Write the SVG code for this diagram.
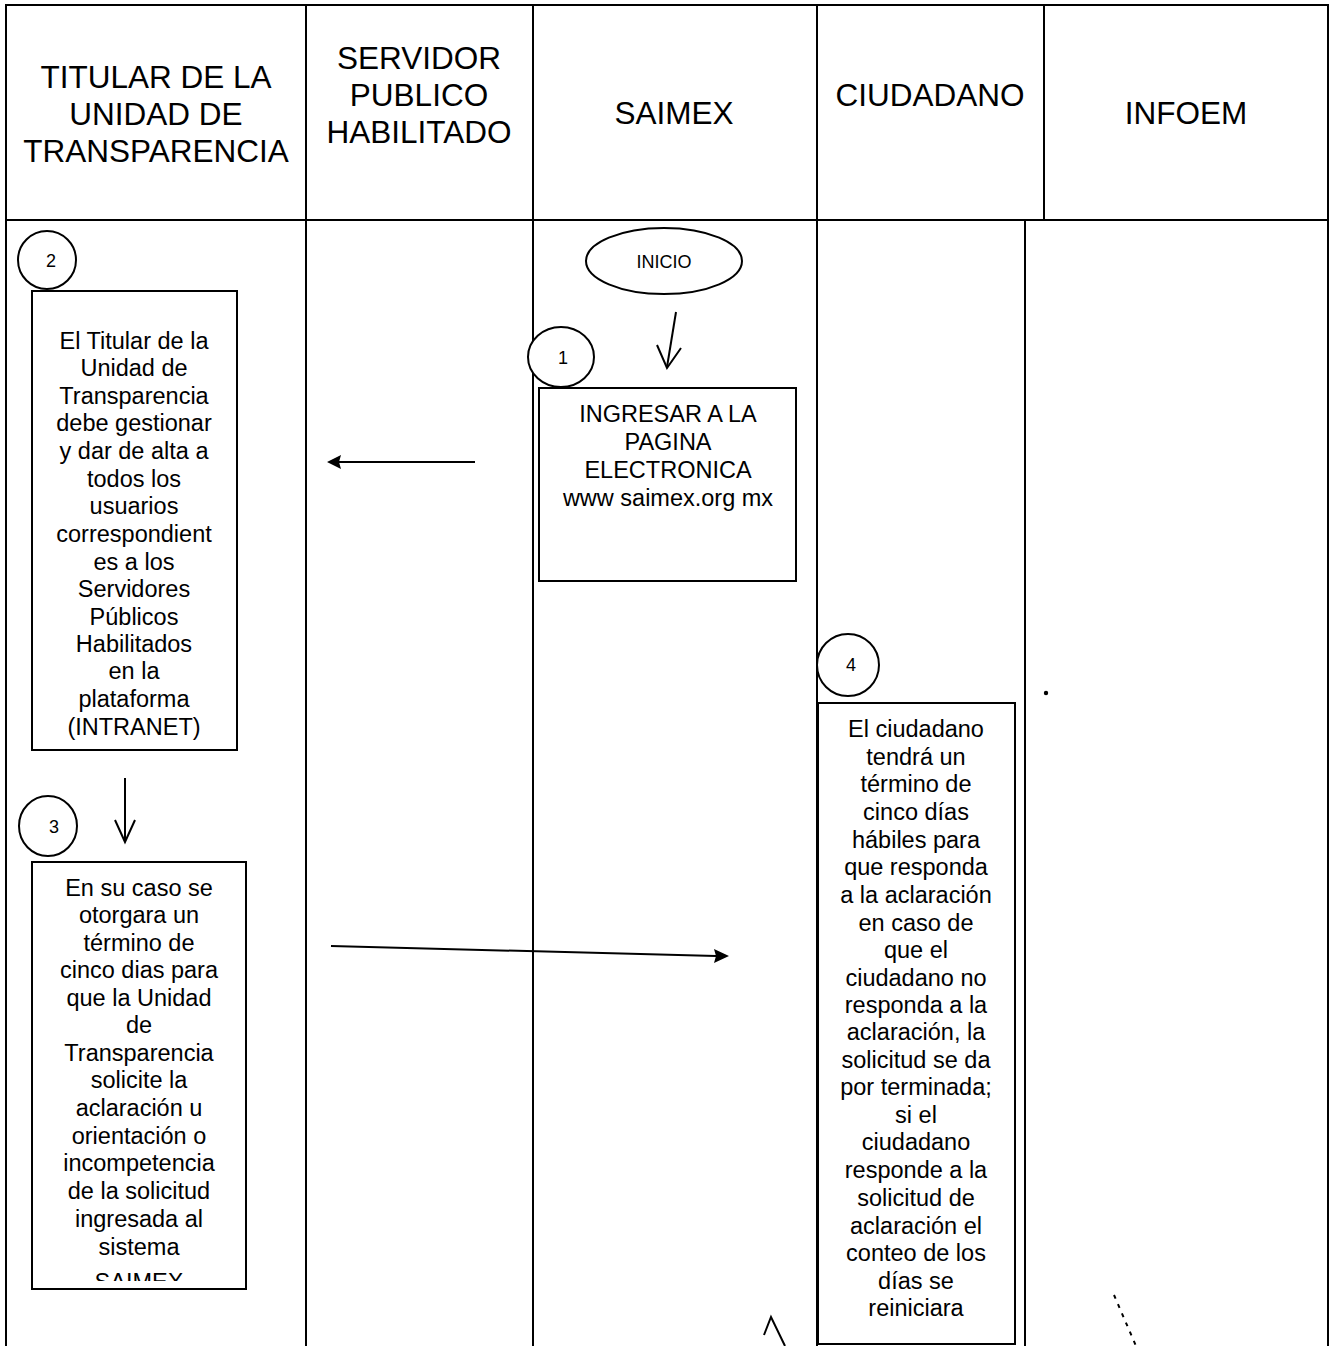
<svg xmlns="http://www.w3.org/2000/svg" width="1331" height="1346" viewBox="0 0 1331 1346">
<style>
.ln{stroke:#000;stroke-width:2;fill:none}
.bx{stroke:#000;stroke-width:2;fill:#fff}
.hd{font-family:"Liberation Sans",Arial,sans-serif;font-size:31.5px;text-anchor:middle;fill:#000}
.tx{font-family:"Liberation Sans",Arial,sans-serif;font-size:23.5px;text-anchor:middle;fill:#000}
.nm{font-family:"Liberation Sans",Arial,sans-serif;font-size:18px;text-anchor:middle;fill:#000}
.ah{fill:#000}
</style>
<defs>
<clipPath id="c3"><rect x="33" y="863" width="212" height="418"/></clipPath>
</defs>
<rect width="1331" height="1346" fill="#fff"/>
<g id="lanes">
<line class="ln" x1="5" y1="5" x2="1329" y2="5"/>
<line class="ln" x1="5" y1="220" x2="1329" y2="220"/>
<line class="ln" x1="6" y1="5" x2="6" y2="1346"/>
<line class="ln" x1="306" y1="5" x2="306" y2="1346"/>
<line class="ln" x1="533" y1="5" x2="533" y2="1346"/>
<line class="ln" x1="817" y1="5" x2="817" y2="1346"/>
<line class="ln" x1="1044" y1="5" x2="1044" y2="220"/>
<line class="ln" x1="1025" y1="220" x2="1025" y2="1346"/>
<line class="ln" x1="1328" y1="5" x2="1328" y2="1346"/>
</g>
<g id="headers">
<text class="hd" x="156" y="88">TITULAR DE LA</text>
<text class="hd" x="156" y="125">UNIDAD DE</text>
<text class="hd" x="156" y="162">TRANSPARENCIA</text>
<text class="hd" x="419" y="69">SERVIDOR</text>
<text class="hd" x="419" y="106">PUBLICO</text>
<text class="hd" x="419" y="143">HABILITADO</text>
<text class="hd" x="674" y="124">SAIMEX</text>
<text class="hd" x="930" y="106">CIUDADANO</text>
<text class="hd" x="1186" y="124">INFOEM</text>
</g>
<g id="inicio">
<ellipse class="bx" cx="664" cy="261" rx="78" ry="33"/>
<text class="nm" x="664" y="268" font-size="19">INICIO</text>
</g>
<g id="step1">
<rect class="bx" x="539" y="388" width="257" height="193"/>
<ellipse class="bx" cx="561" cy="357" rx="33" ry="30"/>
<text class="nm" x="563" y="364">1</text>
<text class="tx" font-size="24" x="668" y="422">INGRESAR A LA</text>
<text class="tx" font-size="24" x="668" y="450">PAGINA</text>
<text class="tx" font-size="24" x="668" y="478">ELECTRONICA</text>
<text class="tx" font-size="24" x="668" y="506">www saimex.org mx</text>
</g>
<g id="step2">
<rect class="bx" x="32" y="291" width="205" height="459"/>
<ellipse class="bx" cx="47" cy="260" rx="29" ry="29"/>
<text class="nm" x="51" y="267">2</text>
<text class="tx" x="134" y="349">El Titular de la</text>
<text class="tx" x="134" y="376">Unidad de</text>
<text class="tx" x="134" y="404">Transparencia</text>
<text class="tx" x="134" y="431">debe gestionar</text>
<text class="tx" x="134" y="459">y dar de alta a</text>
<text class="tx" x="134" y="487">todos los</text>
<text class="tx" x="134" y="514">usuarios</text>
<text class="tx" x="134" y="542">correspondient</text>
<text class="tx" x="134" y="570">es a los</text>
<text class="tx" x="134" y="597">Servidores</text>
<text class="tx" x="134" y="625">Públicos</text>
<text class="tx" x="134" y="652">Habilitados</text>
<text class="tx" x="134" y="679">en la</text>
<text class="tx" x="134" y="707">plataforma</text>
<text class="tx" x="134" y="735">(INTRANET)</text>
</g>
<g id="step3">
<rect class="bx" x="32" y="862" width="214" height="427"/>
<ellipse class="bx" cx="48" cy="826" rx="29" ry="30"/>
<text class="nm" x="54" y="833">3</text>
<g clip-path="url(#c3)">
<text class="tx" x="139" y="896">En su caso se</text>
<text class="tx" x="139" y="923">otorgara un</text>
<text class="tx" x="139" y="951">término de</text>
<text class="tx" x="139" y="978">cinco dias para</text>
<text class="tx" x="139" y="1006">que la Unidad</text>
<text class="tx" x="139" y="1033">de</text>
<text class="tx" x="139" y="1061">Transparencia</text>
<text class="tx" x="139" y="1088">solicite la</text>
<text class="tx" x="139" y="1116">aclaración u</text>
<text class="tx" x="139" y="1144">orientación o</text>
<text class="tx" x="139" y="1171">incompetencia</text>
<text class="tx" x="139" y="1199">de la solicitud</text>
<text class="tx" x="139" y="1227">ingresada al</text>
<text class="tx" x="139" y="1255">sistema</text>
<text class="tx" x="139" y="1290">SAIMEX</text>
</g>
</g>
<g id="step4">
<rect class="bx" x="818" y="703" width="197" height="641"/>
<ellipse class="bx" cx="848" cy="665" rx="31" ry="31"/>
<text class="nm" x="851" y="671">4</text>
<text class="tx" x="916" y="737">El ciudadano</text>
<text class="tx" x="916" y="765">tendrá un</text>
<text class="tx" x="916" y="792">término de</text>
<text class="tx" x="916" y="820">cinco días</text>
<text class="tx" x="916" y="848">hábiles para</text>
<text class="tx" x="916" y="875">que responda</text>
<text class="tx" x="916" y="903">a la aclaración</text>
<text class="tx" x="916" y="931">en caso de</text>
<text class="tx" x="916" y="958">que el</text>
<text class="tx" x="916" y="986">ciudadano no</text>
<text class="tx" x="916" y="1013">responda a la</text>
<text class="tx" x="916" y="1040">aclaración, la</text>
<text class="tx" x="916" y="1068">solicitud se da</text>
<text class="tx" x="916" y="1095">por terminada;</text>
<text class="tx" x="916" y="1123">si el</text>
<text class="tx" x="916" y="1150">ciudadano</text>
<text class="tx" x="916" y="1178">responde a la</text>
<text class="tx" x="916" y="1206">solicitud de</text>
<text class="tx" x="916" y="1234">aclaración el</text>
<text class="tx" x="916" y="1261">conteo de los</text>
<text class="tx" x="916" y="1289">días se</text>
<text class="tx" x="916" y="1316">reiniciara</text>
</g>
<g id="connectors">
<line class="ln" x1="676" y1="312" x2="667" y2="367"/>
<polyline class="ln" points="657,345 667,368 681,348"/>
<line class="ln" x1="125" y1="778" x2="125" y2="841"/>
<polyline class="ln" points="115,820 125,842 135,820"/>
<line class="ln" x1="475" y1="462" x2="336" y2="462"/>
<polygon class="ah" points="327,462 341,455 339,462 341,469"/>
<line class="ln" x1="331" y1="946" x2="716" y2="956"/>
<polygon class="ah" points="729,956 714,963 716,956 714,949"/>
</g>
<g id="marks">
<circle cx="1046" cy="693" r="2.2" fill="#000"/>
<polyline class="ln" points="764,1335 771,1317 785,1346"/>
<line x1="1114" y1="1295" x2="1136" y2="1346" stroke="#000" stroke-width="2" stroke-dasharray="4,6"/>
</g>
</svg>
